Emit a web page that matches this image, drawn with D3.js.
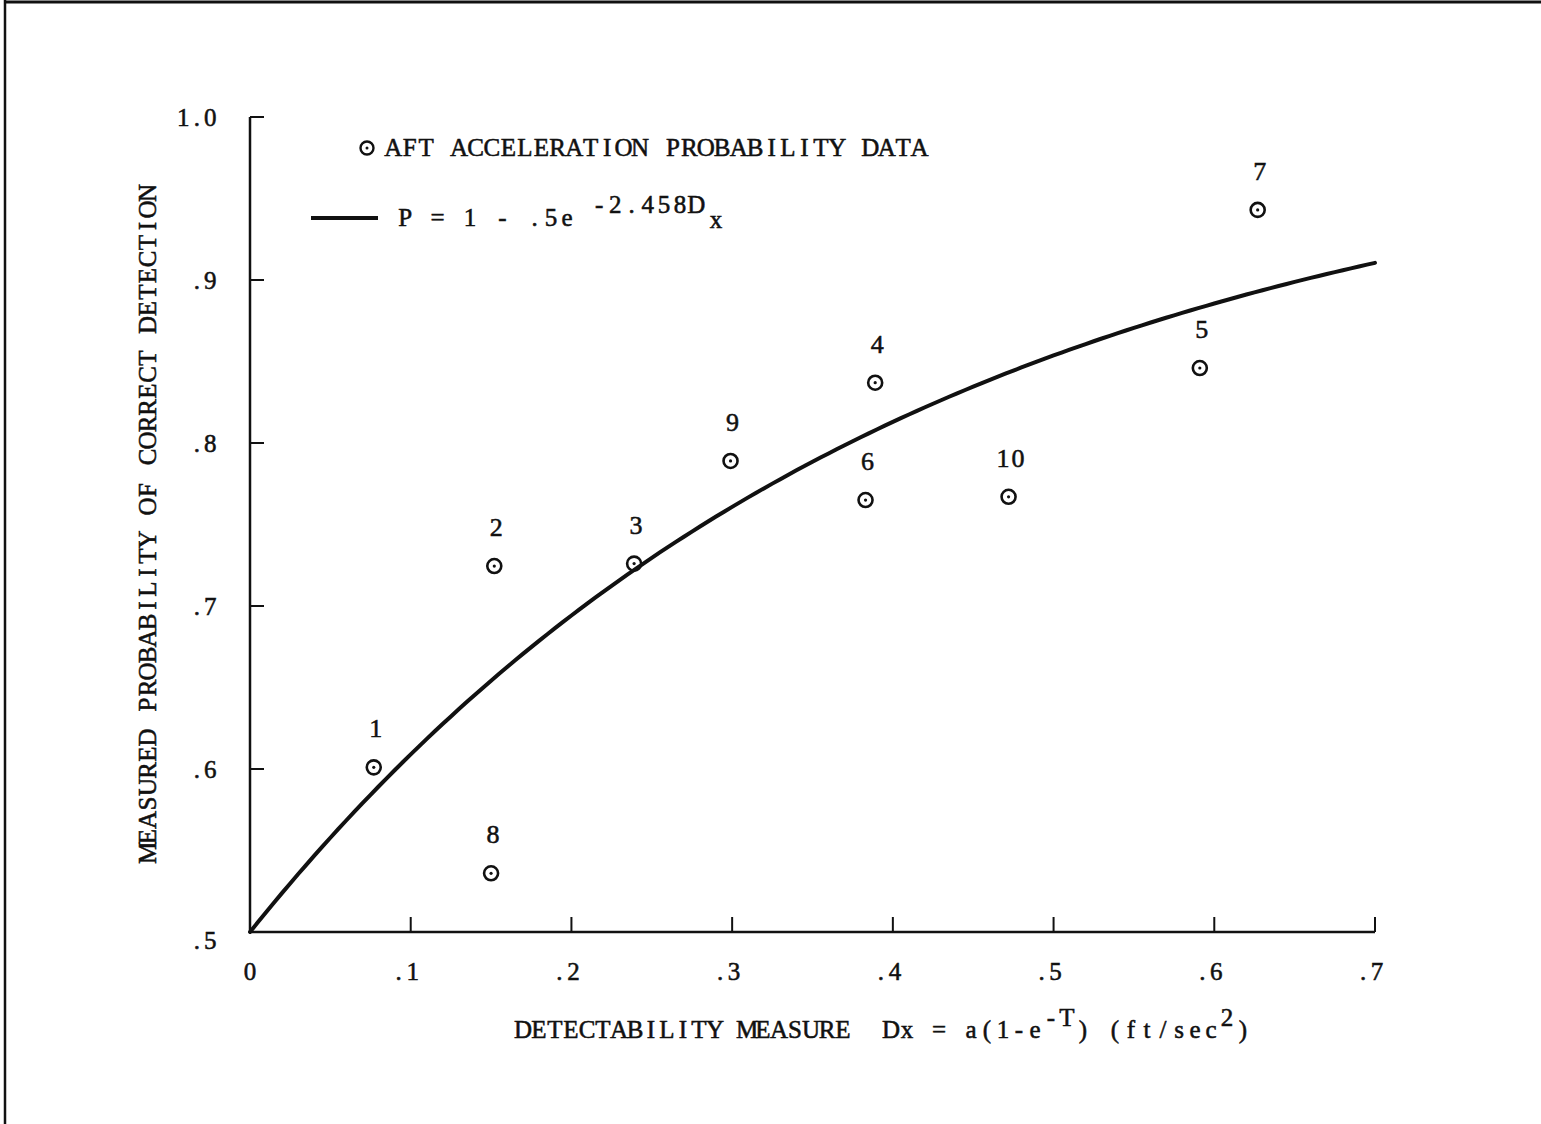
<!DOCTYPE html>
<html><head><meta charset="utf-8">
<script src="https://cdn.jsdelivr.net/npm/d3@7"></script>
<style>
html,body{margin:0;padding:0;background:#fff;}
svg text{font-family:"Liberation Serif","DejaVu Serif",serif;fill:#111;stroke:#111;stroke-width:0.55;}
</style></head>
<body>
<svg id="chart" width="1541" height="1124"></svg>
<script>
// ---- data ----
const pointIds = [1, 2, 3, 4, 5, 6, 7, 8, 9, 10];
const pointDx  = [0.077, 0.152, 0.239, 0.389, 0.591, 0.383, 0.627, 0.150, 0.299, 0.472];
const pointP   = [0.601, 0.7245, 0.726, 0.837, 0.846, 0.765, 0.943, 0.536, 0.789, 0.767];
const xTicks = [0, 0.1, 0.2, 0.3, 0.4, 0.5, 0.6, 0.7];
const xTickLabels = ["0", ".1", ".2", ".3", ".4", ".5", ".6", ".7"];
const yTicks = [0.5, 0.6, 0.7, 0.8, 0.9, 1.0];
const yTickLabels = [".5", ".6", ".7", ".8", ".9", "1.0"];
const fitA = 0.5, fitK = 2.458;   // P = 1 - .5e^(-2.458 Dx)

const svg = d3.select("#chart");
const x = d3.scaleLinear().domain([0, 0.7]).range([250, 1375]);
const y = d3.scaleLinear().domain([0.5, 1.0]).range([932, 117]);

// typewriter-style text: every character centred on a fixed pitch
function typeText(parent, str, x0, yBase, pitch, size) {
  const chars = Array.from(str);
  const xs = chars.map((c, i) => (x0 + i * pitch + pitch / 2).toFixed(1));
  return parent.append("text")
    .attr("x", xs.join(" "))
    .attr("y", yBase)
    .attr("text-anchor", "middle")
    .attr("font-size", size)
    .attr("xml:space", "preserve")
    .text(str);
}
function typeTextEnd(parent, str, xEnd, yBase, pitch, size) {
  return typeText(parent, str, xEnd - Array.from(str).length * pitch, yBase, pitch, size);
}

// page frame (scan border)
svg.append("line").attr("x1",5).attr("x2",1541).attr("y1",2).attr("y2",2)
  .attr("stroke","#111").attr("stroke-width",3);
svg.append("line").attr("x1",5).attr("x2",5).attr("y1",0).attr("y2",1124)
  .attr("stroke","#111").attr("stroke-width",2.5);

// axes lines
svg.append("line").attr("x1",x(0)).attr("x2",x(0.7)).attr("y1",y(0.5)).attr("y2",y(0.5))
  .attr("stroke","#111").attr("stroke-width",2.5);
svg.append("line").attr("x1",x(0)).attr("x2",x(0)).attr("y1",y(0.5)).attr("y2",y(1.0))
  .attr("stroke","#111").attr("stroke-width",2.5);

// x ticks (inward)
svg.selectAll(".xt").data(xTicks.slice(1)).join("line")
  .attr("x1",d=>x(d)).attr("x2",d=>x(d)).attr("y1",y(0.5)).attr("y2",y(0.5)-15)
  .attr("stroke","#111").attr("stroke-width",2);
xTicks.forEach((d,i)=>{
  const lab = xTickLabels[i];
  if (i === 0) typeText(svg, lab, x(d) - 7, y(0.5) + 48, 14, 25);
  else typeTextEnd(svg, lab, x(d) + 9, y(0.5) + 48, 14, 25);
});

// y ticks (inward)
svg.selectAll(".yt").data(yTicks.slice(1)).join("line")
  .attr("x1",x(0)).attr("x2",x(0)+14).attr("y1",d=>y(d)).attr("y2",d=>y(d))
  .attr("stroke","#111").attr("stroke-width",2);
yTicks.forEach((d,i)=>{
  typeTextEnd(svg, yTickLabels[i], 217, y(d) + (i===0 ? 17 : 9), 13.5, 25);
});

// fitted curve
const curveData = d3.range(0, 0.7001, 0.005).map(d => [d, 1 - fitA*Math.exp(-fitK*d)]);
svg.append("path").datum(curveData)
  .attr("d", d3.line().x(d=>x(d[0])).y(d=>y(d[1])))
  .attr("fill","none").attr("stroke","#111").attr("stroke-width",4).attr("stroke-linecap","round");

// data points
const pts = pointIds.map((id,i)=>({id, dx:pointDx[i], p:pointP[i]}));
pts.forEach(d=>{
  const g = svg.append("g").attr("transform",`translate(${x(d.dx)},${y(d.p)})`);
  g.append("circle").attr("r",7).attr("fill","none").attr("stroke","#111").attr("stroke-width",2.6);
  g.append("circle").attr("r",1.6).attr("fill","#111");
  const s = String(d.id);
  typeText(g, s, 2 - s.length * 15 / 2, -30, 15, 26);
});

// legend
const lg = svg.append("g");
lg.append("circle").attr("cx",367).attr("cy",148).attr("r",6.5).attr("fill","none").attr("stroke","#111").attr("stroke-width",2.4);
lg.append("circle").attr("cx",367).attr("cy",148).attr("r",1.5).attr("fill","#111");
typeText(lg, "AFT ACCELERATION PROBABILITY DATA", 385, 156, 16.45, 25);
lg.append("line").attr("x1",311).attr("x2",378).attr("y1",218).attr("y2",218)
  .attr("stroke","#111").attr("stroke-width",4);
typeText(lg, "P = 1 - .5e", 397, 226, 16.2, 25);
typeText(lg, "-2.458D", 591, 213, 16.2, 25);
typeText(lg, "x", 708, 228, 16.2, 25);

// axis titles
const yTitle = svg.append("g").attr("transform","translate(156,523) rotate(-90)");
typeText(yTitle, "MEASURED PROBABILITY OF CORRECT DETECTION", -41*16.5/2, 0, 16.5, 25);

const xp = 16;
typeText(svg, "DETECTABILITY MEASURE  Dx = a(1-e", 515, 1038, xp, 25);
typeText(svg, "-T", 515 + 33*xp, 1026, xp, 25);
typeText(svg, ") (ft/sec", 515 + 35*xp, 1038, xp, 25);
typeText(svg, "2", 515 + 44*xp, 1026, xp, 25);
typeText(svg, ")", 515 + 45*xp, 1038, xp, 25);
</script>
</body></html>
